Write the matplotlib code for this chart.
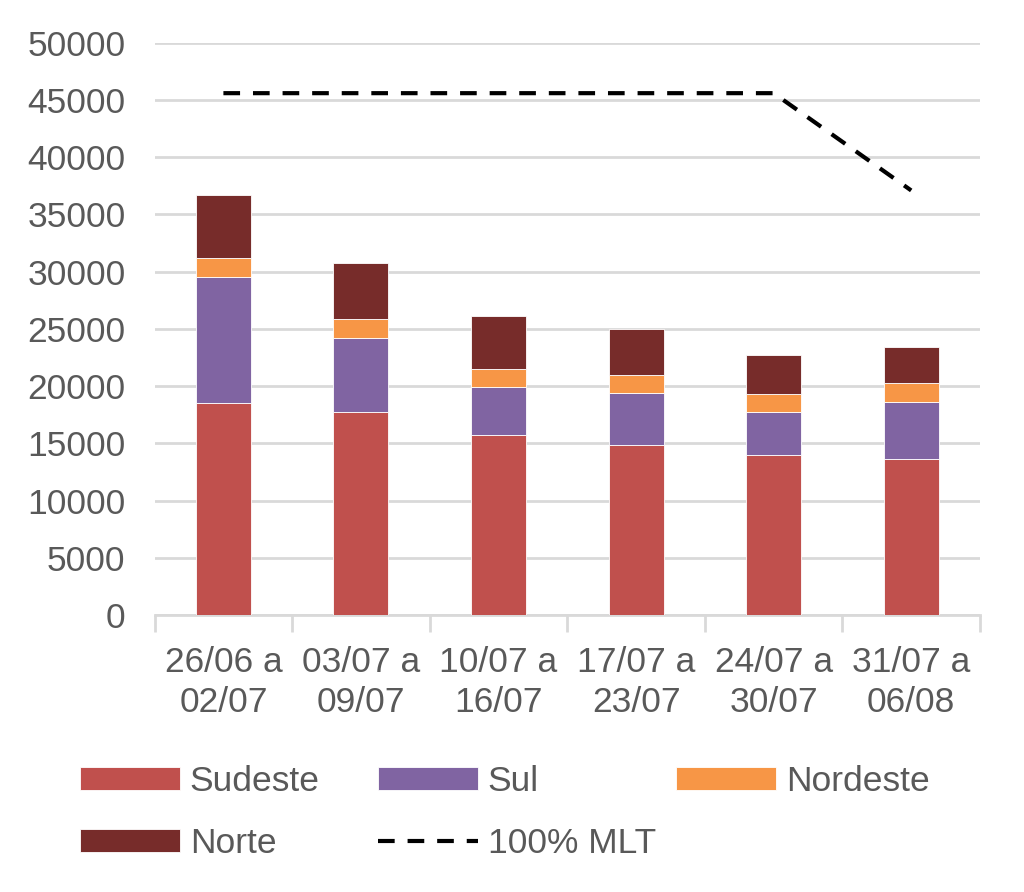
import matplotlib.pyplot as plt
import numpy as np

plt.rcParams['font.family'] = ['Liberation Sans', 'DejaVu Sans']

semanas = ['26/06 a\n02/07', '03/07 a\n09/07', '10/07 a\n16/07',
           '17/07 a\n23/07', '24/07 a\n30/07', '31/07 a\n06/08']
sudeste = [18500, 17700, 15700, 14900, 14000, 13600]
sul = [11000, 6500, 4200, 4500, 3700, 5000]
nordeste = [1700, 1700, 1600, 1600, 1600, 1700]
norte = [5500, 4900, 4600, 4000, 3400, 3100]
mlt = [45600, 45600, 45600, 45600, 45600, 37100]

cor_texto = '#595959'
fs = 25.5
x = np.arange(len(semanas))

fig = plt.figure(figsize=(10.24, 8.92), dpi=100)
ax = fig.add_axes([0.151, 0.3105, 0.806, 0.6415])

base = np.zeros(len(semanas))
series = [(sudeste, 'Sudeste', '#C0504D'), (sul, 'Sul', '#8064A2'),
          (nordeste, 'Nordeste', '#F79646'), (norte, 'Norte', '#772C2A')]
handles = []
for valores, nome, cor in series:
    b = ax.bar(x, valores, 0.4, bottom=base, color=cor, edgecolor='white',
               linewidth=0.6, label=nome, zorder=3)
    handles.append(b)
    base = base + np.array(valores)

linha, = ax.plot(x, mlt, color='black', linestyle=(0, (4, 3.1)), linewidth=3,
                 label='100% MLT', zorder=4)
handles.append(linha)

ax.set_xlim(-0.5, len(semanas) - 0.5)
ax.set_ylim(0, 50000)
ax.set_yticks(np.arange(0, 50001, 5000))
ax.yaxis.grid(True, color='#D9D9D9', linewidth=2)
ax.set_axisbelow(True)
for s in ['left', 'right', 'top']:
    ax.spines[s].set_visible(False)
ax.spines['bottom'].set_color('#D9D9D9')
ax.spines['bottom'].set_linewidth(2)
ax.tick_params(axis='y', length=0, labelsize=fs, labelcolor=cor_texto, pad=21)
ax.set_xticks(x)
ax.set_xticklabels(semanas, linespacing=1.3)
ax.tick_params(axis='x', length=0, labelsize=fs, labelcolor=cor_texto, pad=22)
ax.set_xticks(np.arange(-0.5, len(semanas), 1), minor=True)
ax.tick_params(axis='x', which='minor', length=12, width=2, color='#D9D9D9')

# legenda em tres colunas de largura igual, como no Excel
colunas = [[handles[0], handles[3]], [handles[1], handles[4]], [handles[2]]]
x_col = [80, 378, 676]
for hs, xc in zip(colunas, x_col):
    leg = fig.legend(handles=hs, labels=[h.get_label() for h in hs],
                     loc='upper left', bbox_to_anchor=(xc / 1024, 0.142),
                     frameon=False, fontsize=fs, handlelength=2.82,
                     handleheight=0.62, handletextpad=0.28, borderpad=0,
                     borderaxespad=0, labelspacing=0.8)
    for t in leg.get_texts():
        t.set_color(cor_texto)

fig.savefig('out.png', dpi=100)
